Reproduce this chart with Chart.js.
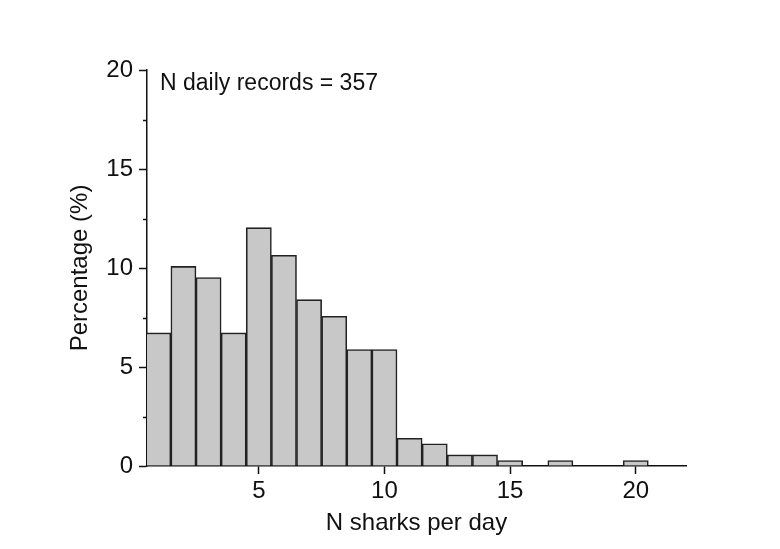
<!DOCTYPE html>
<html>
<head>
<meta charset="utf-8">
<title>N sharks per day</title>
<script src="https://cdn.jsdelivr.net/npm/chart.js@4/dist/chart.umd.min.js"></script>
<style>
  html, body { margin: 0; padding: 0; background: #fff; }
  #wrap { width: 780px; height: 549px; }
</style>
</head>
<body>
<div id="wrap"><canvas id="hist" width="780" height="549"></canvas></div>
<script>
// histogram bins (sharks per day) and their share of daily records (%)
const sharkBins = [1, 2, 3, 4, 5, 6, 7, 8, 9, 10, 11, 12, 13, 14, 15, 16, 17, 18, 19, 20];
const percentages = [6.72, 10.08, 9.52, 6.72, 12.04, 10.64, 8.40, 7.56, 5.88, 5.88,
                     1.40, 1.12, 0.56, 0.56, 0.28, 0, 0.28, 0, 0, 0.28];
const xTickValues = [5, 10, 15, 20];
const yMinorTicks = [2.5, 7.5, 12.5, 17.5];
const noteText = "N daily records = 357";

const FONT = "'Liberation Sans', Arial, sans-serif";
const INK = "#111";

// small minor ticks on the y axis + the "N daily records" note
const extras = {
  id: "extras",
  afterDraw(chart) {
    const ctx = chart.ctx;
    const y = chart.scales.y;
    const area = chart.chartArea;
    ctx.save();
    ctx.strokeStyle = INK;
    ctx.lineWidth = 1.5;
    yMinorTicks.forEach(v => {
      const py = Math.round(y.getPixelForValue(v)) + 0.5;
      ctx.beginPath();
      ctx.moveTo(area.left - 4, py);
      ctx.lineTo(area.left, py);
      ctx.stroke();
    });
    ctx.fillStyle = INK;
    ctx.font = "23px " + FONT;
    ctx.textBaseline = "alphabetic";
    ctx.textAlign = "left";
    ctx.fillText(noteText, area.left + 13, area.top + 20);
    ctx.restore();
  }
};

new Chart(document.getElementById("hist"), {
  type: "bar",
  data: {
    datasets: [{
      data: sharkBins.map((b, i) => ({ x: b, y: percentages[i] })),
      backgroundColor: "#c8c8c8",
      borderColor: "#222",
      borderWidth: 1.6,
      categoryPercentage: 1,
      barPercentage: 1
    }]
  },
  options: {
    responsive: false,
    animation: false,
    layout: { padding: { top: 70, right: 94, bottom: 0, left: 0 } },
    plugins: { legend: { display: false }, tooltip: { enabled: false } },
    scales: {
      x: {
        type: "linear",
        offset: false,
        min: 0.55,
        max: 22,
        afterBuildTicks: scale => { scale.ticks = xTickValues.map(v => ({ value: v })); },
        afterFit: scale => { scale.height = 83; },
        grid: { display: true, offset: false, drawOnChartArea: false, drawTicks: true, tickLength: 8, tickColor: INK, tickWidth: 1.5 },
        border: { display: true, color: INK, width: 1.5 },
        ticks: { color: INK, font: { family: FONT, size: 24 }, padding: 3, maxRotation: 0 },
        title: { display: true, text: "N sharks per day", color: INK, font: { family: FONT, size: 24 }, padding: { top: 0, bottom: 11 } }
      },
      y: {
        min: 0,
        max: 20,
        ticks: { stepSize: 5, color: INK, font: { family: FONT, size: 24 }, padding: 6 },
        afterFit: scale => { scale.width = 147; },
        grid: { display: true, drawOnChartArea: false, drawTicks: true, tickLength: 8, tickColor: INK, tickWidth: 1.5 },
        border: { display: true, color: INK, width: 1.5 },
        title: { display: true, text: "Percentage (%)", color: INK, font: { family: FONT, size: 24 }, padding: { top: 66, bottom: 0 } }
      }
    }
  },
  plugins: [extras]
});
</script>
</body>
</html>
